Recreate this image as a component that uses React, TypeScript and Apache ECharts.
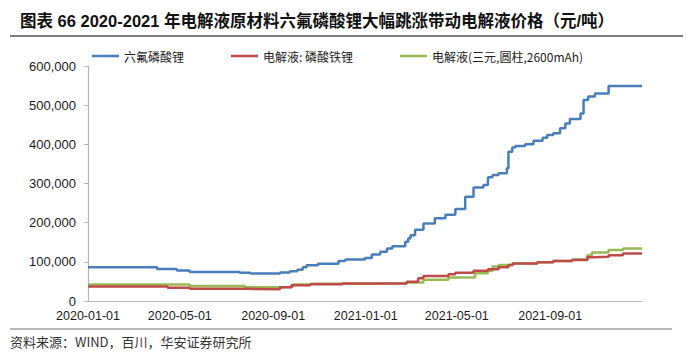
import React, { useEffect, useRef } from "react";
import * as echarts from "echarts";

const titleText = "图表 66 2020-2021 年电解液原材料六氟磷酸锂大幅跳涨带动电解液价格（元/吨）";
const sourceText = "资料来源：WIND，百川，华安证券研究所";
const seriesNames = ["六氟磷酸锂", "电解液: 磷酸铁锂", "电解液(三元,圆柱,2600mAh)"];
const xTickDates = ["2020-01-01", "2020-05-01", "2020-09-01", "2021-01-01", "2021-05-01", "2021-09-01"];

const lipf6Dates = [
  "2020-01-01", "2020-04-01", "2020-04-27", "2020-05-14", "2020-07-19", "2020-08-02", "2020-09-01",
  "2020-09-10", "2020-09-23", "2020-10-03", "2020-10-10", "2020-10-15", "2020-10-30", "2020-11-26",
  "2020-12-05", "2020-12-31", "2021-01-09", "2021-01-20", "2021-01-29", "2021-02-05", "2021-02-22",
  "2021-02-26", "2021-03-01", "2021-03-07", "2021-03-18", "2021-04-02", "2021-04-16", "2021-04-29",
  "2021-05-12", "2021-05-23", "2021-06-05", "2021-06-11", "2021-06-17", "2021-06-25", "2021-07-06",
  "2021-07-08", "2021-07-13", "2021-07-17", "2021-07-30", "2021-08-10", "2021-08-22", "2021-08-28",
  "2021-09-05", "2021-09-14", "2021-09-21", "2021-09-27", "2021-10-11", "2021-10-15", "2021-10-21",
  "2021-10-30", "2021-11-17", "2021-12-31",
];
const lipf6Values = [
  86000, 82000, 78000, 74000, 72000, 70000, 70000,
  73000, 76000, 80000, 86000, 91000, 95000, 102000,
  106000, 110000, 119000, 126000, 134000, 140000, 151000,
  160000, 168000, 182000, 198000, 211000, 220000, 235000,
  266000, 290000, 296000, 316000, 322000, 326000, 339000,
  381000, 392000, 396000, 400000, 409000, 417000, 424000,
  428000, 441000, 453000, 465000, 479000, 513000, 522000,
  530000, 549000, 549000,
];

const lfpDates = [
  "2020-01-01", "2020-04-15", "2020-05-14", "2020-07-26", "2020-09-10", "2020-09-25", "2020-10-20",
  "2020-12-01", "2021-02-24", "2021-03-11", "2021-03-18", "2021-04-20", "2021-04-29", "2021-05-23",
  "2021-06-11", "2021-06-25", "2021-07-08", "2021-07-14", "2021-08-15", "2021-09-05", "2021-09-30",
  "2021-10-20", "2021-10-28", "2021-11-17", "2021-12-06", "2021-12-31",
];
const lfpValues = [
  37000, 34000, 31000, 30000, 35000, 40000, 43000,
  45000, 49000, 58000, 64000, 68000, 72000, 77000,
  81000, 86000, 92000, 96000, 99000, 102000, 105000,
  112000, 113000, 117000, 121000, 121000,
];

const nmcDates = [
  "2020-01-01", "2020-05-14", "2020-07-26", "2020-09-10", "2020-09-27", "2020-10-20", "2020-12-01",
  "2021-02-24", "2021-03-18", "2021-04-20", "2021-05-25", "2021-06-11", "2021-06-17", "2021-06-25",
  "2021-07-13", "2021-08-15", "2021-09-05", "2021-09-30", "2021-10-20", "2021-10-26", "2021-11-17",
  "2021-12-06", "2021-12-31",
];
const nmcValues = [
  42000, 38000, 35000, 36000, 42000, 44000, 45000,
  47000, 54000, 60000, 71000, 77000, 88000, 92000,
  96000, 99000, 102000, 106000, 117000, 124000, 130000,
  134000, 134000,
];

const colors = ["#4a7ebb", "#be4b48", "#98b954"];

function ts(s: string): number {
  const [y, m, d] = s.split("-").map(Number);
  return Date.UTC(y, m - 1, d);
}
function fmt(v: number): string {
  const d = new Date(v);
  const p = (n: number) => (n < 10 ? "0" + n : "" + n);
  return d.getUTCFullYear() + "-" + p(d.getUTCMonth() + 1) + "-" + p(d.getUTCDate());
}
function pairs(dates: string[], vals: number[]) {
  return dates.map((d, i) => [ts(d), vals[i]]);
}

export default function App() {
  const ref = useRef<HTMLDivElement>(null);
  useEffect(() => {
    if (!ref.current) return;
    const chart = echarts.init(ref.current, null, { renderer: "svg" });
    const cjk = "'Noto Sans CJK SC', sans-serif";
    const latin = "'Liberation Sans', Arial, 'Noto Sans CJK SC', sans-serif";
    const dataSets = [pairs(lipf6Dates, lipf6Values), pairs(lfpDates, lfpValues), pairs(nmcDates, nmcValues)];
    chart.setOption({
      animation: false,
      backgroundColor: "#ffffff",
      title: {
        text: titleText,
        left: 15,
        top: 8,
        textStyle: { fontSize: 16.5, fontWeight: "bold", fontFamily: latin, color: "#111" },
      },
      legend: {
        left: 92,
        top: 49,
        padding: 0,
        icon: "rect",
        itemWidth: 27,
        itemHeight: 2.5,
        itemGap: 47,
        textStyle: { fontSize: 12, fontFamily: cjk, color: "#222", lineHeight: 14 },
        data: seriesNames,
      },
      grid: { left: 88, right: 58, top: 66, bottom: 62, containLabel: false },
      xAxis: {
        type: "value",
        min: ts("2020-01-01"),
        max: ts("2021-12-31"),
        axisLine: { lineStyle: { color: "#b8b8b8", width: 1.2 } },
        axisTick: { show: false },
        splitLine: { show: false },
        axisLabel: {
          customValues: xTickDates.map(ts),
          formatter: (v: number) => fmt(v),
          fontSize: 12.5,
          fontFamily: latin,
          color: "#1a1a1a",
          margin: 9,
          hideOverlap: false,
        },
      },
      yAxis: {
        type: "value",
        min: 0,
        max: 600000,
        interval: 100000,
        axisLine: { show: true, lineStyle: { color: "#b8b8b8", width: 1.2 } },
        axisTick: { show: true, inside: false, length: 4, lineStyle: { color: "#b8b8b8" } },
        splitLine: { show: false },
        axisLabel: {
          fontSize: 13,
          fontFamily: latin,
          color: "#1a1a1a",
          margin: 12,
          formatter: (v: number) => v.toLocaleString("en-US"),
        },
      },
      graphic: [
        { type: "line", shape: { x1: 10, y1: 36, x2: 683, y2: 36 }, style: { stroke: "#555", lineWidth: 1.5 } },
        { type: "line", shape: { x1: 10, y1: 329, x2: 672, y2: 329 }, style: { stroke: "#777", lineWidth: 1.2 } },
        {
          type: "text",
          left: 10,
          top: 335,
          style: { text: sourceText, fontSize: 13, fontFamily: cjk, fill: "#333" },
        },
      ],
      series: seriesNames.map((name, i) => ({
        name,
        type: "line",
        step: "end",
        symbol: "none",
        showSymbol: false,
        data: dataSets[i],
        z: i === 0 ? 2 : i === 1 ? 4 : 3,
        lineStyle: { color: colors[i], width: 2.5 },
        itemStyle: { color: colors[i] },
      })),
    });
    return () => chart.dispose();
  }, []);
  return (
    <div
      ref={ref}
      style={{ position: "fixed", left: 0, top: 0, width: 700, height: 363, background: "#fff" }}
    />
  );
}
